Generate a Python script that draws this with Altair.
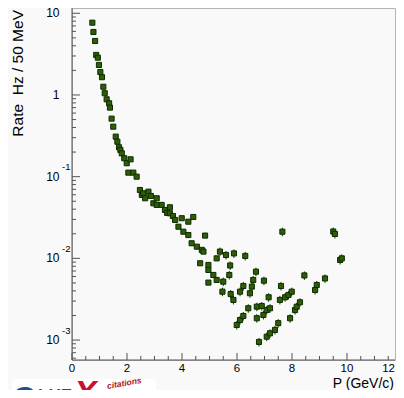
import altair as alt
import pandas as pd

# ---- data (P in GeV/c, rate in Hz / 50 MeV) ----
P = [0.74, 0.78, 0.84, 0.88, 0.94, 0.98, 1.03, 1.09, 1.14, 1.19,
     1.26, 1.35, 1.38, 1.44, 1.50, 1.59, 1.65, 1.71, 1.76, 1.81,
     1.90, 1.99, 2.05, 2.13, 2.23, 2.35, 2.47, 2.54, 2.59, 2.66,
     2.78, 2.87, 2.96, 3.08, 3.08, 3.26, 3.38, 3.46, 3.56, 3.56,
     3.67, 3.75, 3.87, 3.99, 4.05, 4.23, 4.23, 4.35, 4.41, 4.54,
     4.66, 4.72, 4.78, 4.84, 4.96, 4.96, 4.96, 5.14, 5.26, 5.26,
     5.38, 5.47, 5.50, 5.60, 5.72, 5.75, 5.77, 5.87, 5.89, 5.99,
     6.11, 6.11, 6.23, 6.23, 6.30, 6.41, 6.47, 6.54, 6.59, 6.69,
     6.72, 6.72, 6.80, 6.90, 6.96, 6.98, 7.08, 7.08, 7.15, 7.20,
     7.20, 7.38, 7.50, 7.56, 7.60, 7.65, 7.75, 7.87, 7.93, 7.99,
     8.11, 8.17, 8.29, 8.45, 8.84, 8.90, 9.20, 9.50, 9.56, 9.75,
     9.81]
RATE = [7.67, 5.90, 4.58, 3.09, 2.86, 2.33, 1.91, 1.65, 1.26, 1.05,
        0.885, 0.791, 0.700, 0.513, 0.409, 0.309, 0.268, 0.229, 0.212, 0.193,
        0.168, 0.146, 0.112, 0.163, 0.112, 0.100, 0.0687, 0.0597, 0.0627, 0.0544,
        0.0655, 0.058, 0.0472, 0.0544, 0.0451, 0.0451, 0.0391, 0.036, 0.0422, 0.0356,
        0.033, 0.0295, 0.0244, 0.0310, 0.0212, 0.0281, 0.0193, 0.0153, 0.0321, 0.0139,
        0.00871, 0.0127, 0.0121, 0.0190, 0.00830, 0.00721, 0.00505, 0.00626, 0.0100, 0.00544,
        0.0121, 0.00391, 0.00519, 0.0110, 0.00626, 0.00818, 0.00366, 0.00310, 0.0115, 0.00153,
        0.00391, 0.00176, 0.00459, 0.00197, 0.0107, 0.00245, 0.00374, 0.00451, 0.00544, 0.00687,
        0.00256, 0.00185, 0.000948, 0.00261, 0.00203, 0.00533, 0.00233, 0.00110, 0.00334, 0.00245,
        0.00121, 0.00133, 0.00161, 0.00310, 0.00459, 0.0212, 0.00334, 0.00356, 0.00185, 0.00391,
        0.00233, 0.00256, 0.00290, 0.00618, 0.00410, 0.00472, 0.00568, 0.0213, 0.0199, 0.00955,
        0.0100]
REL_ERR = ([0.03] * 60) + ([0.12] * 51)

Y_MIN, Y_MAX = 5.70e-4, 11.6
Y_MAJOR = [0.001, 0.01, 0.1, 1, 10]
Y_BASE = ["10", "10", "10", "1", "10"]
Y_EXP = ["-3", "-2", "-1", "", ""]
Y_MINOR = [k * 10.0 ** n for n in range(-4, 1) for k in range(2, 10)
           if Y_MIN < k * 10.0 ** n < Y_MAX]
X_MAJOR = [0, 2, 4, 6, 8, 10]
X_LABELS = ["0", "2", "4", "6", "8", "10"]
X_MINOR = [0.5, 1, 1.5, 2.5, 3, 3.5, 4.5, 5, 5.5, 6.5, 7, 7.5,
           8.5, 9, 9.5, 10.5, 11, 11.5]
X_MAX = 11.745          # right edge of the frame (GeV/c)

FONT = "Liberation Sans"
W, H = 323, 352
AX = "#555555"

df = pd.DataFrame({"P": P, "R": RATE, "E": REL_ERR})
df["lo"] = df["R"] * (1 - df["E"])
df["hi"] = df["R"] * (1 + df["E"])

xs = alt.Scale(domain=[0, X_MAX], nice=False, zero=False)
ys = alt.Scale(type="log", domain=[Y_MIN, Y_MAX], nice=False)
one = pd.DataFrame({"a": [0]})

err = alt.Chart(df).mark_rule(color="#173a02", strokeWidth=1).encode(
    x=alt.X("P:Q", scale=xs, axis=None),
    y=alt.Y("lo:Q", scale=ys, axis=None),
    y2="hi:Q")

pts = alt.Chart(df).mark_square(size=26, fill="#2d5e07", stroke="#0f2a00",
                                strokeWidth=1, opacity=1, fillOpacity=1).encode(
    x=alt.X("P:Q", scale=xs, axis=None),
    y=alt.Y("R:Q", scale=ys, axis=None))

ymaj_df = pd.DataFrame({"v": Y_MAJOR, "base": Y_BASE, "exp": Y_EXP})
ymin_df = pd.DataFrame({"v": Y_MINOR})
xmaj_df = pd.DataFrame({"v": X_MAJOR, "lab": X_LABELS})
xmin_df = pd.DataFrame({"v": X_MINOR})

ytick_maj = alt.Chart(ymaj_df).mark_rule(color=AX).encode(
    y=alt.Y("v:Q", scale=ys, axis=None), x=alt.value(0), x2=alt.value(8))
ytick_min = alt.Chart(ymin_df).mark_rule(color=AX).encode(
    y=alt.Y("v:Q", scale=ys, axis=None), x=alt.value(0), x2=alt.value(4))
xtick_maj = alt.Chart(xmaj_df).mark_rule(color=AX).encode(
    x=alt.X("v:Q", scale=xs, axis=None), y=alt.value(H), y2=alt.value(H - 7))
xtick_min = alt.Chart(xmin_df).mark_rule(color=AX).encode(
    x=alt.X("v:Q", scale=xs, axis=None), y=alt.value(H), y2=alt.value(H - 4))

left_line = alt.Chart(one).mark_rule(color=AX).encode(
    x=alt.value(0), y=alt.value(0), y2=alt.value(H))
bottom_line = alt.Chart(one).mark_rule(color=AX).encode(
    x=alt.value(0), x2=alt.value(W), y=alt.value(H))

ylab = alt.Chart(ymaj_df).mark_text(align="right", baseline="middle", font=FONT,
                                    fontSize=12, color="black").encode(
    y=alt.Y("v:Q", scale=ys, axis=None), x=alt.value(-12.5), text="base:N")
yexp_df = ymaj_df[ymaj_df["exp"] != ""]
yexp = alt.Chart(yexp_df).mark_text(align="left", baseline="middle", font=FONT,
                                    fontSize=9.5, color="black", dy=-9.5).encode(
    y=alt.Y("v:Q", scale=ys, axis=None), x=alt.value(-10), text="exp:N")
xlab = alt.Chart(xmaj_df).mark_text(align="center", baseline="middle", font=FONT,
                                    fontSize=11.5, color="black").encode(
    x=alt.X("v:Q", scale=xs, axis=None), y=alt.value(H + 8.5), text="lab:N")
xlab12 = alt.Chart(one).mark_text(text="12", align="right", baseline="middle",
                                  font=FONT, fontSize=11.5, color="black").encode(
    x=alt.value(W), y=alt.value(H + 8.5))

xtitle = alt.Chart(one).mark_text(text="P (GeV/c)", align="right", baseline="alphabetic",
                                  font=FONT, fontSize=14, color="black").encode(
    x=alt.value(W - 1), y=alt.value(379.5))
ytitle = alt.Chart(one).mark_text(text="Rate\u00a0 Hz / 50 MeV", align="right",
                                  baseline="middle", angle=270, font=FONT,
                                  fontSize=15.5, color="black").encode(
    x=alt.value(-54), y=alt.value(2))

# logo
logo_bg = alt.Chart(one).mark_rect(color="white").encode(
    x=alt.value(-60), x2=alt.value(84), y=alt.value(371), y2=alt.value(392))
logo_g = alt.Chart(one).mark_text(text="G", align="left", baseline="alphabetic",
                                  font=FONT, fontSize=30, fontWeight="bold",
                                  color="#1d4f8a").encode(x=alt.value(-59), y=alt.value(399))
logo_lue = alt.Chart(one).mark_text(text="LUE", align="left", baseline="alphabetic",
                                    font=FONT, fontSize=17, fontWeight="bold",
                                    color="#1d4f8a").encode(x=alt.value(-34), y=alt.value(393))
logo_x = alt.Chart(one).mark_text(text="X", align="left", baseline="alphabetic",
                                  font=FONT, fontSize=34, fontWeight="bold",
                                  fontStyle="italic", color="#c8102e").encode(
    x=alt.value(2), y=alt.value(396))
logo_cit = alt.Chart(one).mark_text(text="citations", align="left", baseline="middle",
                                    font=FONT, fontSize=8.5, fontWeight="bold",
                                    fontStyle="italic", angle=350,
                                    color="#b01020").encode(x=alt.value(35), y=alt.value(378))

chart = alt.layer(
    err, pts, ytick_maj, ytick_min, xtick_maj, xtick_min, left_line, bottom_line,
    ylab, yexp, xlab, xlab12, xtitle, ytitle,
    logo_bg, logo_g, logo_lue, logo_x, logo_cit
).properties(
    width=W, height=H,
    autosize=alt.AutoSizeParams(type="none"),
    padding={"left": 64, "top": 0, "right": 1, "bottom": 30},
    background="#f9f9f9"
).configure_view(stroke="#b4b4b4", strokeWidth=1)

chart.save("out.html", embed_options={"renderer": "svg", "actions": False})
